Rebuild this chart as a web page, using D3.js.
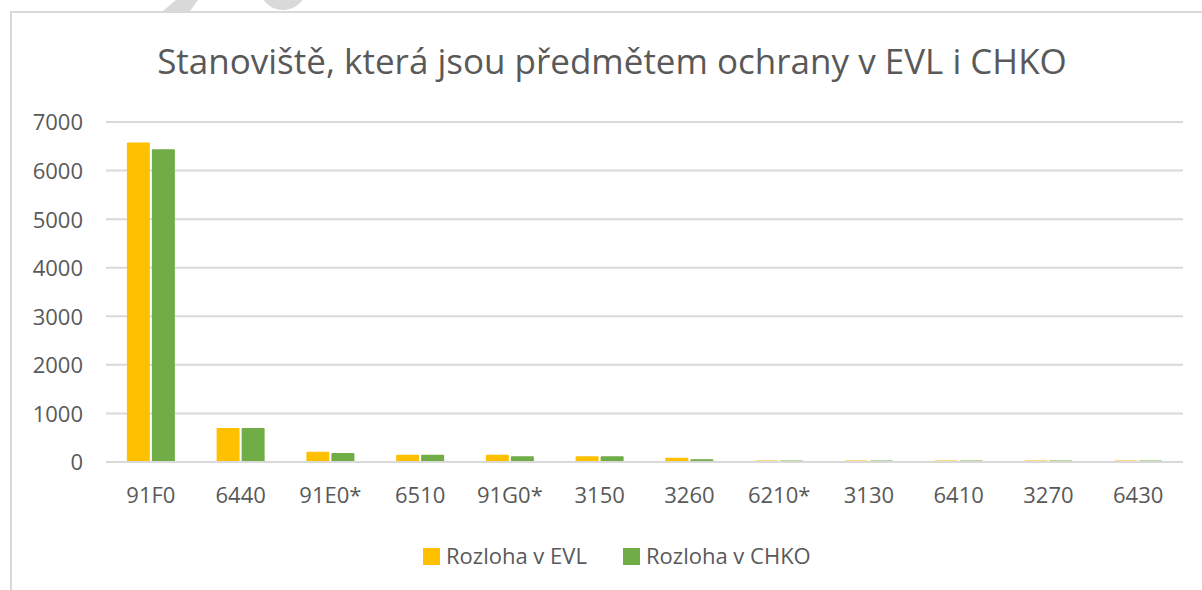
<!DOCTYPE html>
<html>
<head>
<meta charset="utf-8">
<script src="https://cdn.jsdelivr.net/npm/d3@7"></script>
<style>
  body { margin: 0; background: #fff; }
  svg text { font-family: "Open Sans", "Liberation Sans", sans-serif; fill: #595959; }
</style>
</head>
<body>
<svg id="chart" width="1202" height="590"></svg>
<script>
// data
var categories = ["91F0", "6440", "91E0*", "6510", "91G0*", "3150", "3260", "6210*", "3130", "6410", "3270", "6430"];
var evl  = [6580, 700, 210, 150, 150, 120, 85, 30, 30, 30, 30, 30];
var chko = [6440, 700, 185, 150, 120, 120, 55, 30, 30, 30, 30, 30];
var seriesNames = ["Rozloha v EVL", "Rozloha v CHKO"];
var colors = ["#FFC000", "#70AD47"];
var yTicks = [0, 1000, 2000, 3000, 4000, 5000, 6000, 7000];

var svg = d3.select("#chart");

// chart frame (runs off the right and bottom of the shot)
svg.append("rect")
    .attr("x", 11).attr("y", 12)
    .attr("width", 1300).attr("height", 700)
    .attr("fill", "none").attr("stroke", "#d9d9d9").attr("stroke-width", 2);

// grey bits peeking in at the top
svg.append("path")
    .attr("d", "M163,11 L176,0 L198,0 L190,11 Z")
    .attr("fill", "#d9d9d9");
svg.append("circle")
    .attr("cx", 283).attr("cy", -14).attr("r", 24)
    .attr("fill", "#d9d9d9");

svg.append("text")
    .attr("x", 612).attr("y", 74)
    .attr("text-anchor", "middle")
    .style("font-size", "35px")
    .text("Stanoviště, která jsou předmětem ochrany v EVL i CHKO");

var plotLeft = 106, plotRight = 1183, plotTop = 122, plotBottom = 462;

var x = d3.scaleBand().domain(categories).range([plotLeft, plotRight]);
var xs = d3.scaleBand().domain([0, 1]).range([0, 48]).paddingInner(0.08);
var y = d3.scaleLinear().domain([0, 7000]).range([plotBottom, plotTop]);

// gridlines
svg.append("g")
    .selectAll("line")
    .data(yTicks)
    .enter().append("line")
    .attr("x1", plotLeft).attr("x2", plotRight)
    .attr("y1", function(d) { return y(d); })
    .attr("y2", function(d) { return y(d); })
    .attr("stroke", "#d9d9d9").attr("stroke-width", 2);

// y axis labels
var yAxis = svg.append("g")
    .attr("transform", "translate(83,0)")
    .call(d3.axisLeft(y).tickValues(yTicks).tickFormat(d3.format("d")).tickSize(0).tickPadding(0));
yAxis.select(".domain").remove();
yAxis.selectAll("text")
    .style("font-size", "22px")
    .style("font-family", null)
    .attr("fill", null)
    .attr("dy", "0.36em");

// bars
var groups = svg.append("g")
    .selectAll("g")
    .data(categories)
    .enter().append("g")
    .attr("transform", function(d) { return "translate(" + (x(d) + x.bandwidth() / 2 - 24) + ",0)"; });

groups.selectAll("rect")
    .data(function(d, i) { return [evl[i], chko[i]]; })
    .enter().append("rect")
    .attr("x", function(d, j) { return xs(j); })
    .attr("width", xs.bandwidth())
    .attr("y", function(d) { return y(d); })
    .attr("height", function(d) { return plotBottom - y(d); })
    .attr("rx", 1)
    .attr("fill", function(d, j) { return colors[j]; });

// baseline over bars
svg.append("line")
    .attr("x1", plotLeft).attr("x2", plotRight)
    .attr("y1", plotBottom).attr("y2", plotBottom)
    .attr("stroke", "#d9d9d9").attr("stroke-width", 2);

// x axis
var xAxis = svg.append("g")
    .attr("transform", "translate(0,503)")
    .call(d3.axisBottom(x).tickSize(0).tickPadding(0));
xAxis.select(".domain").remove();
xAxis.selectAll("text")
    .style("font-size", "22px")
    .style("font-family", null)
    .attr("fill", null)
    .attr("dy", 0);

// legend
var legend = svg.append("g").attr("transform", "translate(423,564)");
var legendX = [0, 200];
seriesNames.forEach(function(name, i) {
    legend.append("rect")
        .attr("x", legendX[i]).attr("y", -16)
        .attr("width", 17).attr("height", 17)
        .attr("fill", colors[i]);
    legend.append("text")
        .attr("x", legendX[i] + 23).attr("y", 0)
        .style("font-size", "22px")
        .text(name);
});
</script>
</body>
</html>
